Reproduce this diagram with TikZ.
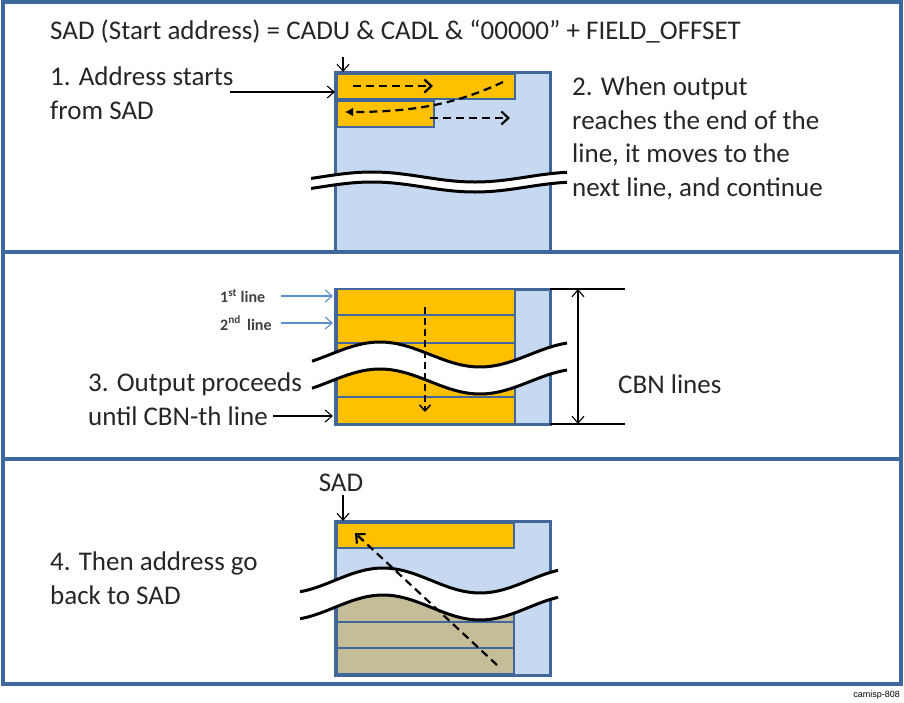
\documentclass[tikz,border=0pt]{standalone}
\usepackage{fontspec}
\setmainfont{Carlito}
\newfontfamily\notefont{Liberation Sans}
\usetikzlibrary{arrows.meta}

\definecolor{frameblue}{HTML}{3F689E}
\definecolor{memfill}{HTML}{C6D9F1}
\definecolor{memline}{HTML}{41679A}
\definecolor{rowfill}{HTML}{FFC000}
\definecolor{oldfill}{HTML}{C4BD97}
\definecolor{tagblue}{HTML}{5B8FD0}

% white break band across a memory block: xleft, xright, xpeak, ymid, amplitude, halfperiod, gap
\newcommand{\cutwave}[7]{%
   \fill[white] plot[domain=#1:#2,samples=40,smooth] (\x,{#4-#5*cos((\x-#3)/#6*180)})
      -- plot[domain=#2:#1,samples=40,smooth] (\x,{#4+#7-#5*cos((\x-#3)/#6*180)}) -- cycle;
   \draw[line width=3pt] plot[domain=#1:#2,samples=40,smooth] (\x,{#4-#5*cos((\x-#3)/#6*180)});
   \draw[line width=3pt] plot[domain=#1:#2,samples=40,smooth] (\x,{#4+#7-#5*cos((\x-#3)/#6*180)});
}

\tikzset{
   txt/.style={anchor=north west, inner sep=0pt, align=left,
      font=\fontsize{27}{33.5}\selectfont, text=black!85},
   tag/.style={anchor=west, inner sep=0pt, font=\bfseries\fontsize{16}{18}\selectfont, text=black!75},
   mem/.style={fill=memfill, draw=memline, line width=3pt},
   row/.style={fill=rowfill, draw=memline, line width=2.6pt},
   thinarrow/.style={line width=1.1pt, -{Straight Barb[length=7pt,width=12pt]}},
   flow/.style={line width=2.2pt, dash pattern=on 8pt off 5pt, -{Straight Barb[length=7pt,width=13pt]}}
}

\begin{document}
\begin{tikzpicture}[x=1pt, y=-1pt]
   \useasboundingbox (0,0) rectangle (904,702);

   % panel 1
   \fill[memfill] (335,72) rectangle (550,251);
   \draw[memline, line width=3pt] (335,251) -- (335,72) -- (550,72) -- (550,251);
   \draw[row] (337,74) rectangle (515,99);
   \draw[row] (337,101) rectangle (434,127);
   \cutwave{311}{567}{372}{177}{5}{103}{10}

   \node[txt] (title) at (50,20) {SAD (Start address) = CADU \& CADL \& “00000” + FIELD\_OFFSET};
   \node[txt] (step1) at (50,67) {1. Address starts\\from SAD};
   \node[txt] (step2) at (572,77) {2. When output\\reaches the end of the\\line, it moves to the\\next line, and continue};

   \coordinate (cadu) at (343,57);
   \coordinate (sad1) at (343,72);
   \coordinate (s1) at (230,92);
   \coordinate (row1) at (335,92);
   \draw[thinarrow] (cadu) -- (sad1);
   \draw[thinarrow] (s1) -- (row1);

   \coordinate (f1a) at (353,86);
   \coordinate (f1b) at (433,86);
   \coordinate (f2a) at (503,82);
   \coordinate (f2b) at (345,112);
   \coordinate (f3a) at (430,118);
   \coordinate (f3b) at (510,118);
   \draw[flow] (f1a) -- (f1b);
   \draw[line width=2.2pt, dash pattern=on 8pt off 5pt, -{Latex[length=8pt,width=9pt]}]
      (f2a) .. controls (460,102) and (420,112) .. (f2b);
   \draw[flow] (f3a) -- (f3b);

   % panel 2
   \draw[mem] (335,289) rectangle (550,424);
   \foreach \ya/\yb in {289/315, 315/343, 343/397, 397/424}
      \draw[row] (337,\ya) rectangle (515,\yb);
   \cutwave{312}{567}{380}{354.5}{12.5}{100}{27}

   \node[tag] (first) at (220,296) {1\textsuperscript{st} line};
   \node[tag] (second) at (220,323) {2\textsuperscript{nd}\, line};
   \node[txt] (step3) at (88,373) {3. Output proceeds\\until CBN-th line};
   \node[txt, anchor=west] (cbn) at (618,384) {CBN lines};

   \coordinate (l1a) at (281,296);
   \coordinate (l1b) at (333,296);
   \coordinate (l2a) at (281,323);
   \coordinate (l2b) at (333,323);
   \coordinate (lna) at (273,416);
   \coordinate (lnb) at (333,416);
   \draw[thinarrow, tagblue] (l1a) -- (l1b);
   \draw[thinarrow, tagblue] (l2a) -- (l2b);
   \draw[thinarrow] (lna) -- (lnb);

   \coordinate (dn1) at (425,307);
   \coordinate (dn2) at (425,412);
   \draw[line width=1.5pt, dash pattern=on 7pt off 4pt, -{Straight Barb[length=6pt,width=11pt]}] (dn1) -- (dn2);

   \coordinate (dtop) at (578,289);
   \coordinate (dbot) at (578,424);
   \draw[line width=1.1pt] (550,289) -- (625,289);
   \draw[line width=1.1pt] (550,424) -- (625,424);
   \draw[line width=1.1pt, {Straight Barb[length=7pt,width=12pt]}-{Straight Barb[length=7pt,width=12pt]}] (dtop) -- (dbot);

   % panel 3
   \draw[mem] (335,521) rectangle (550,675);
   \draw[row] (337,523) rectangle (514,548);
   \fill[oldfill] (337,674) -- plot[domain=337:514,samples=40,smooth] (\x,{582.5-12.5*cos((\x-383)/97*180)}) -- (514,674) -- cycle;
   \draw[memline, line width=2.6pt] (337,600) -- (337,674) -- (514,674) -- (514,590);
   \draw[memline, line width=2.6pt] (337,622) -- (514,622);
   \draw[memline, line width=2.6pt] (337,648) -- (514,648);
   \cutwave{300}{558}{383}{580.5}{12.5}{97}{27}

   \node[font=\fontsize{27}{30}\selectfont, text=black!85, inner sep=0pt] (sad) at (341,483) {SAD};
   \node[txt] (step4) at (50,552) {4. Then address go\\back to SAD};

   \coordinate (sad3) at (343,521);
   \draw[thinarrow] (sad.south -| sad3) ++(0,3) coordinate (sadfoot) -- (sad3);

   \coordinate (bk1) at (497,665);
   \coordinate (bk2) at (355,533);
   \draw[flow] (bk1) -- (bk2);

   % frame
   \draw[frameblue, line width=3.5pt] (3,2) rectangle (901,684);
   \draw[frameblue, line width=3.5pt] (3,252) -- (901,252);
   \draw[frameblue, line width=3.5pt] (3,459) -- (901,459);

   \node[anchor=east, inner sep=0pt, font=\notefont\fontsize{9}{10}\selectfont] (note) at (900,695) {camisp-808};
\end{tikzpicture}
\end{document}
